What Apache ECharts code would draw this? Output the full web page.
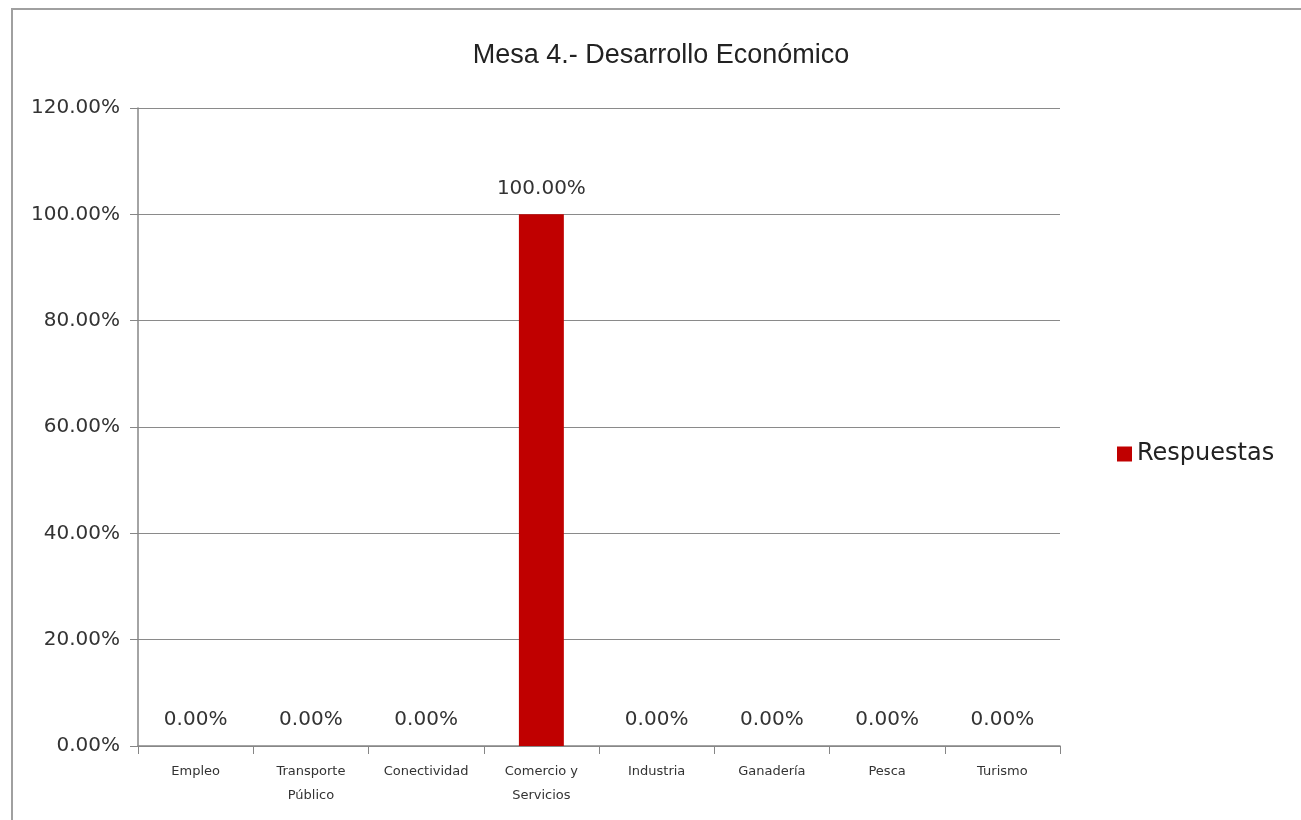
<!DOCTYPE html>
<html>
<head>
<meta charset="utf-8">
<title>Mesa 4</title>
<script src="https://cdn.jsdelivr.net/npm/echarts@6/dist/echarts.min.js"></script>
<style>
  html, body { margin: 0; padding: 0; background: #fff; }
</style>
</head>
<body>
<div id="main" style="width: 1301px; height: 820px;"></div>
<script type="text/javascript">
var categories = ['Empleo', 'Transporte\nPúblico', 'Conectividad', 'Comercio y\nServicios', 'Industria', 'Ganadería', 'Pesca', 'Turismo'];
var respuestas = [0, 0, 0, 1, 0, 0, 0, 0];
var yTicks = { min: 0, max: 1.2, interval: 0.2 };

function pct(v) { return (v * 100).toFixed(2) + '%'; }

var chart = echarts.init(document.getElementById('main'));
chart.setOption({
    animation: false,
    backgroundColor: '#fff',
    // marco del gráfico
    graphic: [{
        type: 'rect',
        shape: { x: 12, y: 9, width: 1300, height: 830 },
        style: { fill: 'none', stroke: '#a0a0a0', lineWidth: 2 },
        silent: true
    }],
    title: {
        text: 'Mesa 4.- Desarrollo Económico',
        left: 656,
        textAlign: 'center',
        top: 37,
        textStyle: { fontFamily: 'Liberation Sans', fontSize: 27, fontWeight: 'normal', color: '#222' }
    },
    legend: {
        data: ['Respuestas'],
        orient: 'vertical',
        left: 1112,
        top: 437,
        icon: 'rect',
        itemWidth: 15,
        itemHeight: 15,
        itemGap: 6,
        textStyle: { fontFamily: 'DejaVu Sans', fontSize: 24, color: '#222' }
    },
    grid: { left: 138, right: 241, top: 108, bottom: 74 },
    xAxis: {
        type: 'category',
        data: categories,
        axisLine: { lineStyle: { color: '#868686', width: 1.5 } },
        axisTick: { show: true, length: 8, lineStyle: { color: '#868686' } },
        axisLabel: { interval: 0, fontFamily: 'DejaVu Sans', fontSize: 13, color: '#333', margin: 14, lineHeight: 24 }
    },
    yAxis: {
        type: 'value',
        min: yTicks.min,
        max: yTicks.max,
        interval: yTicks.interval,
        axisLine: { show: true, lineStyle: { color: '#868686', width: 1.5 } },
        axisTick: { show: true, length: 8, lineStyle: { color: '#868686' } },
        splitLine: { lineStyle: { color: '#8a8a8a', width: 1 } },
        axisLabel: { formatter: pct, fontFamily: 'DejaVu Sans', fontSize: 20, color: '#333', margin: 18 }
    },
    series: [{
        name: 'Respuestas',
        type: 'bar',
        data: respuestas,
        barWidth: '39%',
        itemStyle: { color: '#c00000' },
        label: {
            show: true,
            position: 'top',
            distance: 16,
            formatter: function (p) { return pct(p.value); },
            fontFamily: 'DejaVu Sans',
            fontSize: 20,
            color: '#333'
        }
    }]
});
</script>
</body>
</html>
